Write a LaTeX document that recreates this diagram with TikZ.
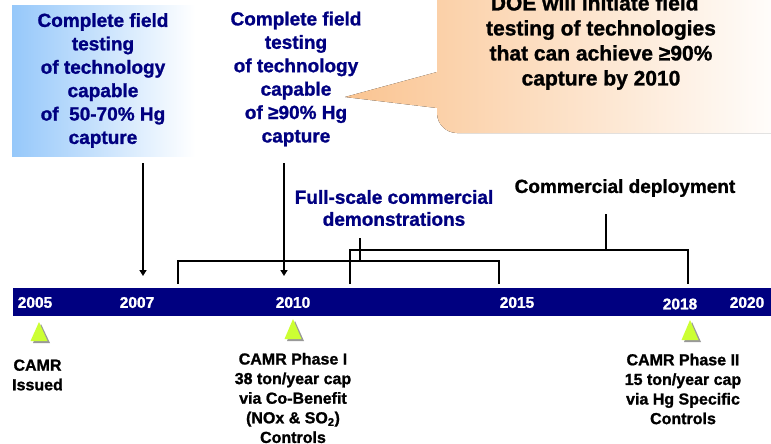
\documentclass[tikz,border=0pt]{standalone}
\usepackage{fontspec}
\setmainfont{Liberation Sans}[BoldFeatures={FakeBold=1.2}]
\usetikzlibrary{arrows.meta}
\definecolor{navy}{RGB}{0,0,128}
\definecolor{lblue}{RGB}{150,200,250}
\definecolor{lorange}{RGB}{250,196,145}
\definecolor{ygreen}{RGB}{204,255,51}
\begin{document}
\begin{tikzpicture}[x=1pt,y=-1pt,
  bigtxt/.style={font=\fontsize{19}{23.4}\selectfont\bfseries, align=center, inner sep=0pt, text=navy},
  calltxt/.style={font=\fontsize{21}{25}\selectfont\bfseries, align=center, inner sep=0pt, text=black},
  midtxt/.style={font=\fontsize{19}{22}\selectfont\bfseries, align=center, inner sep=0pt},
  smalltxt/.style={font=\fontsize{16}{19.6}\selectfont\bfseries, align=center, inner sep=0pt, text=black},
  yeartxt/.style={font=\fontsize{15.5}{18}\selectfont\bfseries, text=white, inner sep=0pt},
  bracket/.style={line width=2pt, line cap=rect},
  arr/.style={line width=2pt, -{Triangle[width=7pt,length=6pt]}},
  tri/.style={fill=ygreen},
  trishadow/.style={fill=gray!80}
]
\useasboundingbox (0,0) rectangle (771,444);

% blue box
\node[left color=lblue, right color=white, minimum width=183, minimum height=151, inner sep=0pt, anchor=north west] (box1) at (12,5) {};
\node[bigtxt] (t1) at (103,80.5) {Complete field\\testing\\of technology\\capable\\of~ 50-70\% Hg\\capture};

% second text
\node[bigtxt] (t2) at (296,79) {Complete field\\testing\\of technology\\capable\\of ≥90\% Hg\\capture};

% callout
\fill[left color=lorange, right color=white] (345,97) -- (437,72) -- (437,-40) -- (790,-40) -- (790,133) -- (457,133) .. controls (446,133) and (437,124) .. (437,113) -- (437,108) -- cycle;
\node[calltxt] (call) at (601,42.5) {DOE will initiate field\hspace*{0.6em}\\testing of technologies\\that can achieve ≥90\%\\capture by 2010};

% arrows
\coordinate (a1s) at (143,163);
\coordinate (a1e) at (143,276);
\coordinate (a2s) at (284,163);
\coordinate (a2e) at (284,276);
\draw[arr] (a1s) -- (a1e);
\draw[arr] (a2s) -- (a2e);

% labels
\node[midtxt, text=navy] (fs) at (394,208) {Full-scale commercial\\demonstrations};
\node[midtxt, text=black] (cd) at (625,188) {Commercial deployment};

% bracket 1
\coordinate (b1l) at (178,283);
\coordinate (b1lt) at (178,261);
\coordinate (b1rt) at (499,261);
\coordinate (b1r) at (499,283);
\coordinate (b1m) at (360,261);
\coordinate (b1s) at (360,239);
\draw[bracket] (b1l) -- (b1lt) -- (b1rt) -- (b1r);
\draw[bracket] (b1m) -- (b1s);

% bracket 2
\coordinate (b2l) at (350,283);
\coordinate (b2lt) at (350,250);
\coordinate (b2rt) at (688,250);
\coordinate (b2r) at (688,283);
\coordinate (b2m) at (606,250);
\coordinate (b2s) at (606,215);
\draw[bracket] (b2l) -- (b2lt) -- (b2rt) -- (b2r);
\draw[bracket] (b2m) -- (b2s);

% timeline bar
\node[fill=navy, minimum width=758, minimum height=28, inner sep=0pt, anchor=north west] (bar) at (13,288) {};
\node[yeartxt] (y2005) at (35,302.5) {2005};
\node[yeartxt] (y2007) at (137,302.5) {2007};
\node[yeartxt] (y2010) at (293,302.5) {2010};
\node[yeartxt] (y2015) at (517,302.5) {2015};
\node[yeartxt] (y2018) at (680,304) {2018};
\node[yeartxt] (y2020) at (747,302.5) {2020};

% triangles
\foreach \cx/\ay/\by in {39/322/341, 293/319/339, 690/320/340} {
  \fill[trishadow] (\cx+2,\ay+2) -- (\cx+11,\by+2) -- (\cx-6,\by+2) -- cycle;
  \fill[tri] (\cx,\ay) -- (\cx+8.5,\by) -- (\cx-8.5,\by) -- cycle;
}

% bottom labels
\node[smalltxt] (camr) at (37.5,375) {CAMR\\Issued};
\node[smalltxt] (ph1) at (293,398) {CAMR Phase I\\38 ton/year cap\\via Co-Benefit\\(NOx \& SO\textsubscript{2})\\Controls};
\node[smalltxt] (ph2) at (683,389) {CAMR Phase II\\15 ton/year cap\\via Hg Specific\\Controls};
\end{tikzpicture}
\end{document}
